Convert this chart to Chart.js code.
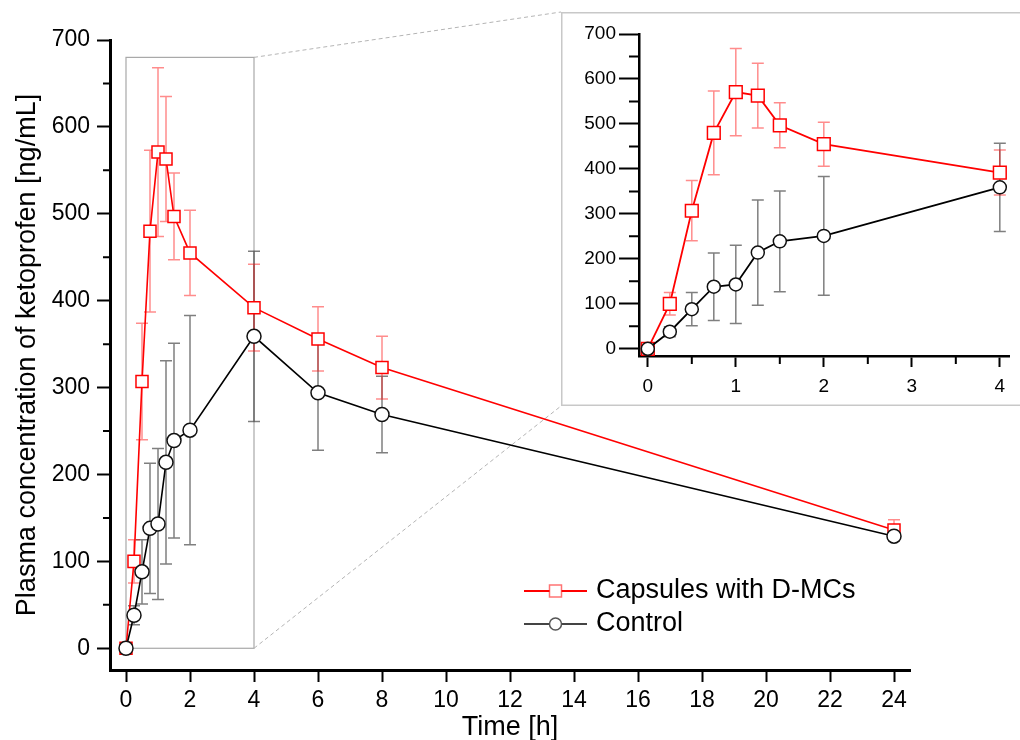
<!DOCTYPE html>
<html>
<head>
<meta charset="utf-8">
<title>Plasma concentration of ketoprofen</title>
<script src="https://cdn.jsdelivr.net/npm/chart.js@4.4.1/dist/chart.umd.min.js"></script>
<style>
    html, body { margin: 0; padding: 0; background: #fff; overflow: hidden; }
    #wrap { position: relative; width: 1020px; height: 740px; }
    #main { position: absolute; left: 0; top: 0; }
    #inset { position: absolute; left: 561px; top: 12px; }
</style>
</head>
<body>
<div id="wrap">
    <canvas id="main" width="1020" height="740"></canvas>
    <canvas id="inset" width="459" height="394"></canvas>
</div>
<script>
// data (mean +/- SD, ng/mL)
var times = [0, 0.25, 0.5, 0.75, 1, 1.25, 1.5, 2, 4, 6, 8, 24];
var capsules = [0, 100, 307, 480, 571, 563, 497, 455, 392, 356, 323, 136];
var capsulesSD = [0, 25, 67, 93, 97, 72, 50, 49, 50, 37, 36, 12];
var control = [0, 38, 88, 138, 143, 214, 239, 251, 359, 294, 269, 129];
var controlSD = [0, 11, 37, 75, 87, 117, 112, 132, 98, 66, 44, 5];

var mainXTicks = [0, 2, 4, 6, 8, 10, 12, 14, 16, 18, 20, 22, 24];
var yTicks = [0, 100, 200, 300, 400, 500, 600, 700];
var yMinor = [50, 150, 250, 350, 450, 550, 650];
var insetXTicks = [0, 1, 2, 3, 4];
var insetXMinor = [0.5, 1.5, 2.5, 3.5];
var zoomX = [0, 4];
var zoomY = [0, 680];

var FONT = "'Liberation Sans', Arial, Helvetica, sans-serif";
var RED = "rgb(255,0,0)";

function pairs(xs, ys, maxX) {
    var out = [];
    for (var i = 0; i < xs.length; i++) {
        if (maxX === undefined || xs[i] <= maxX) out.push({ x: xs[i], y: ys[i] });
    }
    return out;
}

function fixedTicks(values) {
    return function(scale) {
        scale.ticks = values.map(function(v) { return { value: v }; });
    };
}

function makeDatasets(maxX, big) {
    return [
        {
            label: "Control",
            data: pairs(times, control, maxX),
            errors: controlSD,
            errorColor: "rgba(0,0,0,0.5)",
            borderColor: "#000",
            borderWidth: big ? 1.6 : 1.8,
            pointStyle: "circle",
            pointRadius: big ? 7 : 6.5,
            pointBorderWidth: 1.5,
            pointBackgroundColor: "#fff",
            pointBorderColor: "#111",
            legendLine: "#444",
            legendPoint: "#555",
            order: 0
        },
        {
            label: "Capsules with D-MCs",
            data: pairs(times, capsules, maxX),
            errors: capsulesSD,
            errorColor: "rgba(255,0,0,0.45)",
            borderColor: RED,
            borderWidth: big ? 1.6 : 1.8,
            pointStyle: "rect",
            pointRadius: big ? 8.5 : 9,
            pointBorderWidth: 1.5,
            pointBackgroundColor: "#fff",
            pointBorderColor: RED,
            legendLine: RED,
            legendPoint: "rgba(255,0,0,0.55)",
            order: 1
        }
    ];
}

//Error bars, drawn under the lines and markers

var errorBars = {
    id: "errorBars",
    beforeDatasetsDraw: function(chart, args, opts) {
        var ctx = chart.ctx;
        var xs = chart.scales.x, ys = chart.scales.y;
        chart.data.datasets.forEach(function(ds) {
            ctx.save();
            ctx.strokeStyle = ds.errorColor;
            ctx.lineWidth = opts.width || 1.5;
            ds.data.forEach(function(p, j) {
                var e = ds.errors[j];
                if (!e) return;
                var x = xs.getPixelForValue(p.x);
                var y1 = ys.getPixelForValue(p.y + e);
                var y2 = ys.getPixelForValue(p.y - e);
                var c = opts.cap || 6;
                ctx.beginPath();
                ctx.moveTo(x, y1); ctx.lineTo(x, y2);
                ctx.moveTo(x - c, y1); ctx.lineTo(x + c, y1);
                ctx.moveTo(x - c, y2); ctx.lineTo(x + c, y2);
                ctx.stroke();
            });
            ctx.restore();
        });
    }
};

//Minor tick marks

var minorTicks = {
    id: "minorTicks",
    afterDraw: function(chart, args, opts) {
        var ctx = chart.ctx;
        var xs = chart.scales.x, ys = chart.scales.y;
        ctx.save();
        ctx.strokeStyle = "#000";
        ctx.lineWidth = opts.width || 2;
        ctx.beginPath();
        (opts.y || []).forEach(function(v) {
            var py = ys.getPixelForValue(v);
            ctx.moveTo(ys.right, py);
            ctx.lineTo(ys.right - opts.yLength, py);
        });
        (opts.x || []).forEach(function(v) {
            var px = xs.getPixelForValue(v);
            ctx.moveTo(px, xs.top);
            ctx.lineTo(px, xs.top + opts.xLength);
        });
        ctx.stroke();
        ctx.restore();
    }
};

//Zoom box and dashed guides to the inset

var zoomBox = {
    id: "zoomBox",
    beforeDatasetsDraw: function(chart, args, opts) {
        var ctx = chart.ctx;
        var xs = chart.scales.x, ys = chart.scales.y;
        var l = xs.getPixelForValue(zoomX[0]), r = xs.getPixelForValue(zoomX[1]);
        var t = ys.getPixelForValue(zoomY[1]), b = ys.getPixelForValue(zoomY[0]);
        ctx.save();
        ctx.strokeStyle = "#a8a8a8";
        ctx.lineWidth = 1.2;
        ctx.strokeRect(l, t, r - l, b - t);
        ctx.setLineDash([4, 3]);
        ctx.strokeStyle = "#b4b4b4";
        ctx.lineWidth = 1;
        ctx.beginPath();
        ctx.moveTo(r, t); ctx.lineTo(opts.insetLeft, opts.insetTop);
        ctx.moveTo(r, b); ctx.lineTo(opts.insetLeft, opts.insetBottom);
        ctx.stroke();
        ctx.restore();
    }
};

//Legend inside the plot

var legendBox = {
    id: "legendBox",
    afterDraw: function(chart, args, opts) {
        var ctx = chart.ctx;
        var items = chart.data.datasets.slice().reverse();
        items.forEach(function(ds, i) {
            var y = opts.top + i * opts.gap;
            var mx = opts.left + opts.lineLen / 2;
            ctx.save();
            ctx.strokeStyle = ds.legendLine;
            ctx.lineWidth = 1.8;
            ctx.beginPath();
            ctx.moveTo(opts.left, y);
            ctx.lineTo(opts.left + opts.lineLen, y);
            ctx.stroke();
            ctx.fillStyle = "#fff";
            ctx.strokeStyle = ds.legendPoint;
            ctx.lineWidth = 1.5;
            ctx.beginPath();
            if (ds.pointStyle === "rect") {
                ctx.rect(mx - 6, y - 6, 12, 12);
            } else {
                ctx.arc(mx, y, 6, 0, Math.PI * 2);
            }
            ctx.fill();
            ctx.stroke();
            ctx.fillStyle = "#000";
            ctx.font = opts.fontSize + "px " + FONT;
            ctx.textBaseline = "middle";
            ctx.fillText(ds.label, opts.textX, y);
            ctx.restore();
        });
    }
};

//Inset frame

var insetFrame = {
    id: "insetFrame",
    beforeDraw: function(chart) {
        var ctx = chart.ctx;
        ctx.save();
        ctx.fillStyle = "#fff";
        ctx.fillRect(0, 0, chart.width, chart.height);
        ctx.strokeStyle = "#c8c8c8";
        ctx.lineWidth = 1.5;
        ctx.strokeRect(0.75, 0.75, chart.width + 10, chart.height - 1.5);
        ctx.restore();
    }
};

function axisOptions(o) {
    return {
        type: "linear",
        min: o.min,
        max: o.max,
        afterBuildTicks: fixedTicks(o.ticks),
        afterFit: o.afterFit,
        border: { display: true, color: "#000", width: o.axisWidth },
        grid: { drawOnChartArea: false, drawTicks: true, tickLength: o.tickLength, tickColor: "#000", tickWidth: 2 },
        ticks: { color: "#000", font: { family: FONT, size: o.fontSize }, padding: o.padding, maxRotation: 0, autoSkip: false },
        title: o.title ? { display: true, text: o.title, color: "#000", font: { family: FONT, size: 27 }, padding: o.titlePadding } : { display: false }
    };
}

Chart.defaults.animation = false;

var mainChart = new Chart(document.getElementById("main"), {
    type: "line",
    data: { datasets: makeDatasets(undefined, true) },
    options: {
        responsive: false,
        devicePixelRatio: 1,
        layout: { padding: { left: 0, top: 40, right: 110, bottom: 0 } },
        plugins: {
            legend: { display: false },
            tooltip: { enabled: false },
            errorBars: { cap: 6, width: 1.5 },
            minorTicks: { y: yMinor, yLength: 7, width: 2 },
            zoomBox: { insetLeft: 561, insetTop: 12, insetBottom: 406 },
            legendBox: { left: 524, lineLen: 63, textX: 596, top: 591, gap: 33, fontSize: 27 }
        },
        scales: {
            x: axisOptions({
                min: -0.5, max: 24.5, ticks: mainXTicks, axisWidth: 3, tickLength: 12, fontSize: 23, padding: 5,
                afterFit: function(s) { s.height = 70; },
                title: "Time [h]", titlePadding: { top: 0, bottom: -4 }
            }),
            y: axisOptions({
                min: -25, max: 700, ticks: yTicks, axisWidth: 3, tickLength: 13, fontSize: 23, padding: 7,
                afterFit: function(s) { s.width = 110; },
                title: "Plasma concentration of ketoprofen [ng/mL]", titlePadding: { top: 11, bottom: 0 }
            })
        }
    },
    plugins: [zoomBox, errorBars, minorTicks, legendBox]
});

var insetChart = new Chart(document.getElementById("inset"), {
    type: "line",
    data: { datasets: makeDatasets(4, false) },
    options: {
        responsive: false,
        devicePixelRatio: 1,
        layout: { padding: { left: 0, top: 22, right: 10, bottom: 0 } },
        plugins: {
            legend: { display: false },
            tooltip: { enabled: false },
            errorBars: { cap: 6, width: 1.5 },
            minorTicks: { y: yMinor, yLength: 10, x: insetXMinor, xLength: 8, width: 2 }
        },
        scales: {
            x: axisOptions({
                min: -0.1, max: 4.11, ticks: insetXTicks, axisWidth: 2.5, tickLength: 11, fontSize: 19, padding: 8,
                afterFit: function(s) { s.height = 50; }
            }),
            y: axisOptions({
                min: -16, max: 700, ticks: yTicks, axisWidth: 2.5, tickLength: 20, fontSize: 19, padding: 3,
                afterFit: function(s) { s.width = 78; }
            })
        }
    },
    plugins: [insetFrame, errorBars, minorTicks]
});
</script>
</body>
</html>
